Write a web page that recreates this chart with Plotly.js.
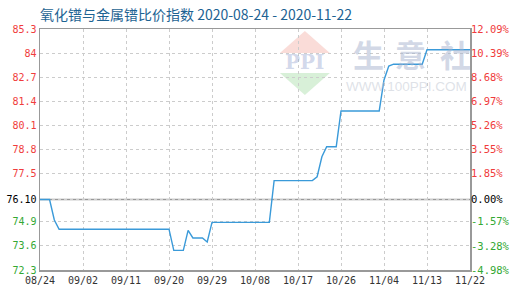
<!DOCTYPE html>
<html>
<head>
<meta charset="utf-8">
<script src="https://cdn.plot.ly/plotly-3.0.1.min.js"></script>
<style>
  html, body { margin: 0; padding: 0; background: #fff; }
  #chart { width: 520px; height: 300px; }
</style>
</head>
<body>
<div id="chart"></div>
<script>
// Price ratio index: praseodymium oxide vs. praseodymium metal
const dates = [
  '2020-08-24', '2020-08-26', '2020-08-27', '2020-08-28', '2020-09-20',
  '2020-09-21', '2020-09-23', '2020-09-24', '2020-09-25', '2020-09-27',
  '2020-09-28', '2020-09-29', '2020-10-11', '2020-10-12', '2020-10-20',
  '2020-10-21', '2020-10-22', '2020-10-23', '2020-10-25', '2020-10-26',
  '2020-11-03', '2020-11-04', '2020-11-05', '2020-11-06', '2020-11-12',
  '2020-11-13', '2020-11-22'
];
const values = [
  76.10, 76.10, 75.00, 74.50, 74.50,
  73.36, 73.36, 74.44, 74.03, 74.03,
  73.81, 74.87, 74.87, 77.12, 77.12,
  77.33, 78.41, 78.95, 78.95, 80.88,
  80.88, 82.55, 83.30, 83.40, 83.40,
  84.18, 84.18
];

const baseValue = 76.10;
const yTickVals = [72.3, 73.6, 74.9, 76.10, 77.5, 78.8, 80.1, 81.4, 82.7, 84.0, 85.3];
const yTickText = ['72.3', '73.6', '74.9', '76.10', '77.5', '78.8', '80.1', '81.4', '82.7', '84', '85.3'];
const pctTickText = ['-4.98%', '-3.28%', '-1.57%', '0.00%', '1.85%', '3.55%', '5.26%', '6.97%', '8.68%', '10.39%', '12.09%'];
const xTickVals = ['2020-08-24', '2020-09-02', '2020-09-11', '2020-09-20', '2020-09-29', '2020-10-08',
                   '2020-10-17', '2020-10-26', '2020-11-04', '2020-11-13', '2020-11-22'];
const xTickText = ['08/24', '09/02', '09/11', '09/20', '09/29', '10/08', '10/17', '10/26', '11/04', '11/13', '11/22'];

const RED = '#f03c3c', GREEN = '#33a833', BLACK = '#000';
function colorFor(v) {
  if (Math.abs(v - baseValue) < 1e-9) return BLACK;
  return v > baseValue ? RED : GREEN;
}
const leftText = yTickVals.map((v, i) => `<span style="color:${colorFor(v)}">${yTickText[i]}</span>`);
const rightText = yTickVals.map((v, i) => `<span style="color:${colorFor(v)}">${pctTickText[i]}</span>`);

const yMin = yTickVals[0], yMax = yTickVals[yTickVals.length - 1];

const traces = [
  {
    x: dates, y: values, type: 'scatter', mode: 'lines',
    line: { color: '#3a9ad9', width: 1.4 },
    hoverinfo: 'x+y', showlegend: false
  },
  {
    x: dates, y: values, type: 'scatter', mode: 'lines', yaxis: 'y2',
    line: { color: 'rgba(0,0,0,0)', width: 0 },
    hoverinfo: 'skip', showlegend: false
  }
];

const gridColor = '#cccccc';
const axisColor = '#999999';
const monoFont = { family: 'DejaVu Sans Mono, monospace', size: 10 };

// watermark text pieces
const markChars = ['生', '意', '社'];
const markCharX = [0.765, 0.862, 0.966];
const markAnnotations = markChars.map((c, i) => ({
  text: c, xref: 'paper', yref: 'paper', x: markCharX[i], y: 0.900,
  xanchor: 'center', yanchor: 'middle', showarrow: false,
  font: { family: 'Noto Sans CJK SC, sans-serif', size: 31, weight: 700, color: 'rgba(165,178,205,0.5)' }
}));

const layout = {
  width: 520, height: 300,
  margin: { l: 40, r: 50, t: 29, b: 30 },
  paper_bgcolor: '#fff', plot_bgcolor: '#fff',
  title: {
    text: '氧化镨与金属镨比价指数 2020-08-24 - 2020-11-22',
    font: { family: 'Noto Sans CJK SC, sans-serif', size: 14, color: '#1d6393' },
    x: 40 / 520, xanchor: 'left', xref: 'container',
    y: 1 - 15 / 300, yanchor: 'middle', yref: 'container'
  },
  xaxis: {
    type: 'date', range: [xTickVals[0], xTickVals[xTickVals.length - 1]],
    tickmode: 'array', tickvals: xTickVals, ticktext: xTickText,
    tickfont: { family: 'DejaVu Sans Mono, monospace', size: 10, color: '#333' },
    showgrid: true, gridcolor: gridColor, griddash: '3px,3px', gridwidth: 1,
    showline: true, linecolor: axisColor, linewidth: 1.5, mirror: true,
    ticks: '', zeroline: false, fixedrange: true
  },
  yaxis: {
    range: [yMin, yMax],
    tickmode: 'array', tickvals: yTickVals, ticktext: leftText,
    tickfont: monoFont,
    showgrid: true, gridcolor: gridColor, griddash: '3px,3px', gridwidth: 1,
    showline: true, linecolor: axisColor, linewidth: 1.5, mirror: true,
    ticks: '', zeroline: false, fixedrange: true
  },
  yaxis2: {
    overlaying: 'y', side: 'right', range: [yMin, yMax],
    tickmode: 'array', tickvals: yTickVals, ticktext: rightText,
    tickfont: { family: 'DejaVu Sans Mono, monospace', size: 10.5 },
    showgrid: false, showline: false, ticks: '', zeroline: false, fixedrange: true
  },
  shapes: [
    // baseline at the starting value
    { type: 'line', xref: 'paper', x0: 0, x1: 1, yref: 'y', y0: baseValue, y1: baseValue,
      line: { color: axisColor, width: 1.5 }, layer: 'below' },
    // watermark logo: upper triangle
    { type: 'path', xref: 'paper', yref: 'paper', layer: 'below',
      path: 'M 0.616 0.992 L 0.558 0.900 L 0.674 0.900 Z',
      fillcolor: 'rgb(250,220,216)', line: { width: 0 } },
    // watermark logo: lower triangle
    { type: 'path', xref: 'paper', yref: 'paper', layer: 'below',
      path: 'M 0.558 0.817 L 0.674 0.817 L 0.616 0.726 Z',
      fillcolor: 'rgb(216,240,216)', line: { width: 0 } }
  ],
  annotations: [
    { text: '<b>PPI</b>', xref: 'paper', yref: 'paper', x: 0.616, y: 0.863,
      xanchor: 'center', yanchor: 'middle', showarrow: false,
      font: { family: 'DejaVu Serif, serif', size: 20, color: 'rgba(155,170,210,0.45)' } },
    ...markAnnotations,
    { text: 'WWW.100PPI.COM', xref: 'paper', yref: 'paper', x: 0.853, y: 0.763,
      xanchor: 'center', yanchor: 'middle', showarrow: false,
      font: { family: 'Liberation Sans, sans-serif', size: 13.5, color: 'rgba(190,196,208,0.5)' } }
  ]
};

Plotly.newPlot('chart', traces, layout, { displayModeBar: false, staticPlot: true });
</script>
</body>
</html>
